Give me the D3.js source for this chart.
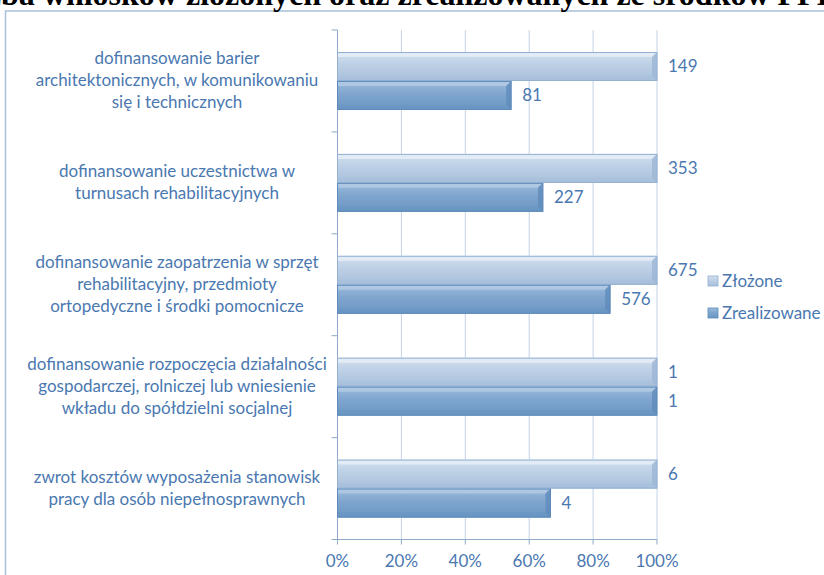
<!DOCTYPE html>
<html>
<head>
<meta charset="utf-8">
<script src="https://cdn.jsdelivr.net/npm/d3@7"></script>
<style>
  html, body { margin: 0; padding: 0; background: #fff; overflow: hidden; }
  svg { display: block; }
  .lbl { font-family: Lato, "Open Sans", sans-serif; fill: #4a78b0; }
</style>
</head>
<body>
<svg id="chart" width="824" height="575"></svg>
<script>
// ─── Dane ────────────────────────────────────────────────────────────────────
const categories = [
  ["dofinansowanie barier", "architektonicznych, w komunikowaniu", "się i technicznych"],
  ["dofinansowanie uczestnictwa w", "turnusach rehabilitacyjnych"],
  ["dofinansowanie zaopatrzenia w sprzęt", "rehabilitacyjny, przedmioty", "ortopedyczne i środki pomocnicze"],
  ["dofinansowanie rozpoczęcia działalności", "gospodarczej, rolniczej lub wniesienie", "wkładu do spółdzielni socjalnej"],
  ["zwrot kosztów wyposażenia stanowisk", "pracy dla osób niepełnosprawnych"]
];
const series = ["Złożone", "Zrealizowane"];
const zlozone = [149, 353, 675, 1, 6];
const zrealizowane = [81, 227, 576, 1, 4];
const xTicks = [0, 0.2, 0.4, 0.6, 0.8, 1];
const title = "Liczba wniosków złożonych oraz zrealizowanych ze środków PFRON";

// ─── Układ ───────────────────────────────────────────────────────────────────
const svg = d3.select("#chart");
const defs = svg.append("defs");

const PLOT = { left: 337.5, right: 657, top: 30, bottom: 539.5 };
const FS = 17;
const keys = categories.map((c, i) => "c" + i);

const x = d3.scaleLinear().domain([0, 1]).range([PLOT.left, PLOT.right]);
const y = d3.scaleBand().domain(keys).range([PLOT.top, PLOT.bottom]);
const y1 = d3.scaleBand().domain(series).range([0, y.bandwidth()]).paddingOuter(0.76).paddingInner(0);

const STYLE = {
  "Złożone":      { top: "#d3e1f0", mid: "#bccfe5", bot: "#a8c0dc", hi: "#e6eef7", side: "#9db7d6", edge: "#93b0d2" },
  "Zrealizowane": { top: "#9dbbdc", mid: "#7fa5ce", bot: "#6a96c3", hi: "#b3cae4", side: "#5f8bbb", edge: "#5d8aba" }
};

series.forEach((s, i) => {
  const st = STYLE[s];
  const g = defs.append("linearGradient").attr("id", "grad" + i)
    .attr("x1", 0).attr("y1", 0).attr("x2", 0).attr("y2", 1);
  g.append("stop").attr("offset", "0%").attr("stop-color", st.top);
  g.append("stop").attr("offset", "45%").attr("stop-color", st.mid);
  g.append("stop").attr("offset", "100%").attr("stop-color", st.bot);
});

// Ramka wykresu
svg.append("rect")
  .attr("x", 5.5).attr("y", 11).attr("width", 830).attr("height", 580)
  .attr("fill", "none").attr("stroke", "#a9c1da").attr("stroke-width", 1.5);

// Tytuł (ucięty u góry, jak w oryginale)
const TFS = 32;
const titleText = svg.append("text")
  .attr("y", 5)
  .attr("font-family", "'Liberation Serif', 'DejaVu Serif', serif")
  .attr("font-weight", "bold")
  .attr("font-size", TFS)
  .attr("fill", "#000")
  .text(title);
{
  const probe = svg.append("text")
    .attr("font-family", "'Liberation Serif', serif").attr("font-weight", "bold")
    .attr("font-size", TFS).text("Licz");
  const w = probe.node().getComputedTextLength();
  probe.remove();
  titleText.attr("x", -w + 1);
}

// Siatka pionowa
svg.append("g").selectAll("line").data(xTicks).join("line")
  .attr("x1", d => x(d)).attr("x2", d => x(d))
  .attr("y1", PLOT.top).attr("y2", PLOT.bottom)
  .attr("stroke", "#c3d3e6").attr("stroke-width", 1);

// Osie
const axisColor = "#8ea9ca";
svg.append("line")
  .attr("x1", PLOT.left).attr("x2", PLOT.left)
  .attr("y1", PLOT.top).attr("y2", PLOT.bottom)
  .attr("stroke", axisColor);
svg.append("line")
  .attr("x1", PLOT.left - 6).attr("x2", PLOT.right)
  .attr("y1", PLOT.bottom).attr("y2", PLOT.bottom)
  .attr("stroke", axisColor);
// znaczniki kategorii
const bounds = keys.map(k => y(k));
svg.append("g").selectAll("line").data(bounds).join("line")
  .attr("x1", PLOT.left - 6).attr("x2", PLOT.left)
  .attr("y1", d => d).attr("y2", d => d)
  .attr("stroke", axisColor);
// znaczniki osi X
svg.append("g").selectAll("line").data(xTicks).join("line")
  .attr("x1", d => x(d)).attr("x2", d => x(d))
  .attr("y1", PLOT.bottom).attr("y2", PLOT.bottom + 5)
  .attr("stroke", axisColor);

svg.append("g").selectAll("text").data(xTicks).join("text")
  .attr("class", "lbl")
  .attr("x", d => x(d)).attr("y", 567)
  .attr("text-anchor", "middle")
  .attr("font-size", FS)
  .text(d => d3.format(".0%")(d));

// Etykiety kategorii
const labelG = svg.append("g");
categories.forEach((lines, i) => {
  const cy = y(keys[i]) + y.bandwidth() / 2;
  const lh = 22;
  const t = labelG.append("text")
    .attr("class", "lbl")
    .attr("text-anchor", "middle")
    .attr("font-size", FS);
  lines.forEach((ln, j) => {
    t.append("tspan")
      .attr("x", 177)
      .attr("y", cy + (j - (lines.length - 1) / 2) * lh + 5)
      .text(ln);
  });
});

// Słupki
const rows = [];
keys.forEach((k, i) => {
  rows.push({ key: k, s: series[0], si: 0, value: zlozone[i], pct: 1 });
  rows.push({ key: k, s: series[1], si: 1, value: zrealizowane[i], pct: zrealizowane[i] / zlozone[i] });
});

const bev = 5;
const barG = svg.append("g").selectAll("g").data(rows).join("g")
  .attr("transform", d => `translate(0,${y(d.key) + y1(d.s)})`);

barG.append("rect")
  .attr("x", x(0)).attr("y", 0)
  .attr("width", d => x(d.pct) - x(0))
  .attr("height", y1.bandwidth())
  .attr("fill", d => `url(#grad${d.si})`);

// faza górna
barG.append("path")
  .attr("d", d => {
    const x0 = x(0), x1 = x(d.pct);
    return `M${x0},0L${x1},0L${x1 - bev},${bev}L${x0},${bev}Z`;
  })
  .attr("fill", d => STYLE[d.s].hi).attr("opacity", 0.85);
// faza prawa
barG.append("path")
  .attr("d", d => {
    const x1 = x(d.pct), h = y1.bandwidth();
    return `M${x1},0L${x1},${h}L${x1 - bev},${h - bev}L${x1 - bev},${bev}Z`;
  })
  .attr("fill", d => STYLE[d.s].side).attr("opacity", 0.8);
// faza dolna
barG.append("path")
  .attr("d", d => {
    const x0 = x(0), x1 = x(d.pct), h = y1.bandwidth();
    return `M${x0},${h}L${x1},${h}L${x1 - bev},${h - bev}L${x0},${h - bev}Z`;
  })
  .attr("fill", d => STYLE[d.s].bot).attr("opacity", 0.7);
barG.append("rect")
  .attr("x", x(0)).attr("y", 0.5)
  .attr("width", d => x(d.pct) - x(0))
  .attr("height", y1.bandwidth() - 1)
  .attr("fill", "none")
  .attr("stroke", d => STYLE[d.s].edge).attr("stroke-width", 1);

// Wartości
barG.append("text")
  .attr("class", "lbl")
  .attr("x", d => x(d.pct) + 11)
  .attr("y", y1.bandwidth() / 2 + 6)
  .attr("font-size", FS)
  .text(d => d.value);

// Legenda
const legend = svg.append("g").attr("transform", "translate(708,281)");
series.forEach((s, i) => {
  const g = legend.append("g").attr("transform", `translate(0,${i * 32})`);
  g.append("rect").attr("x", 0).attr("y", -5).attr("width", 10).attr("height", 10)
    .attr("fill", `url(#grad${i})`).attr("stroke", STYLE[s].edge).attr("stroke-width", 0.8);
  g.append("text").attr("class", "lbl").attr("x", 14).attr("y", 6)
    .attr("font-size", FS).text(s);
});
</script>
</body>
</html>
